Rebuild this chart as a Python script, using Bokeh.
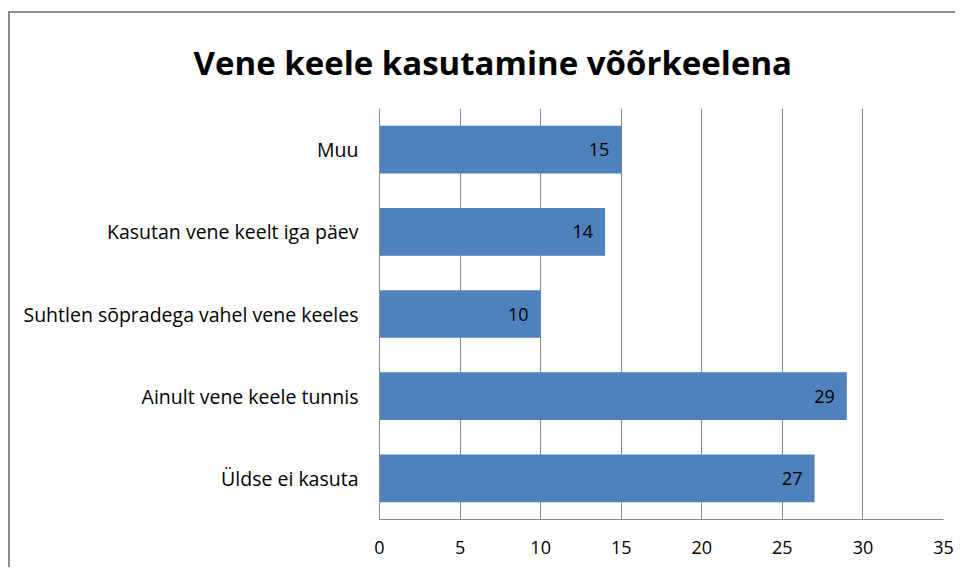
from bokeh.plotting import figure
from bokeh.models import ColumnDataSource, LabelSet, Title, FactorRange, Range1d, FixedTicker
from bokeh.core.properties import value
from bokeh.embed import file_html
from bokeh.resources import INLINE

title = "Vene keele kasutamine võõrkeelena"
categories = ["Muu", "Kasutan vene keelt iga päev", "Suhtlen sõpradega vahel vene keeles",
              "Ainult vene keele tunnis", "Üldse ei kasuta"]
values = [15, 14, 10, 29, 27]
x_ticks = [0, 5, 10, 15, 20, 25, 30, 35]

FONT = "Open Sans"
GRID = "#8a8a8a"

src = ColumnDataSource(dict(cat=categories, val=values, lab=[str(v) for v in values]))

p = figure(width=947, height=556, output_backend="svg", toolbar_location=None,
           y_range=FactorRange(factors=list(reversed(categories)), range_padding=0),
           x_range=Range1d(0, 35),
           min_border_left=369, min_border_right=14, min_border_top=93, min_border_bottom=50)
p.styles = {"margin-top": "11px", "margin-left": "8px",
            "border-top": "2px solid #8c8c8c", "border-left": "2px solid #8c8c8c"}
p.outline_line_color = None
p.background_fill_color = "white"
p.border_fill_color = "white"

p.hbar(y="cat", right="val", left=0, height=0.58, source=src, fill_color="#4F81BD", line_color=None)

p.add_layout(LabelSet(x="val", y="cat", text="lab", source=src, x_offset=-12,
                      text_align="right", text_baseline="middle", text_font=value(FONT),
                      text_font_size="18px", text_color="black"))

p.xaxis.ticker = FixedTicker(ticks=x_ticks)
p.xaxis.axis_line_color = GRID
p.xaxis.major_tick_out = 0
p.xaxis.major_tick_in = 0
p.xaxis.minor_tick_line_color = None
p.xaxis.major_label_standoff = 21
p.xaxis.major_label_text_font = FONT
p.xaxis.major_label_text_font_size = "18px"
p.xaxis.major_label_text_color = "black"

p.yaxis.axis_line_color = GRID
p.yaxis.major_tick_out = 0
p.yaxis.major_tick_in = 0
p.yaxis.major_label_standoff = 21
p.yaxis.major_label_text_font = FONT
p.yaxis.major_label_text_font_size = "19.5px"
p.yaxis.major_label_text_color = "black"

p.xgrid.grid_line_color = GRID
p.xgrid.grid_line_alpha = 1.0
p.ygrid.grid_line_color = None

p.add_layout(Title(text=title, align="left", offset=-186, standoff=48,
                   text_font=FONT, text_font_style="bold", text_font_size="33px",
                   text_color="black"), "above")

open("out.html", "w").write(file_html(p, INLINE))
